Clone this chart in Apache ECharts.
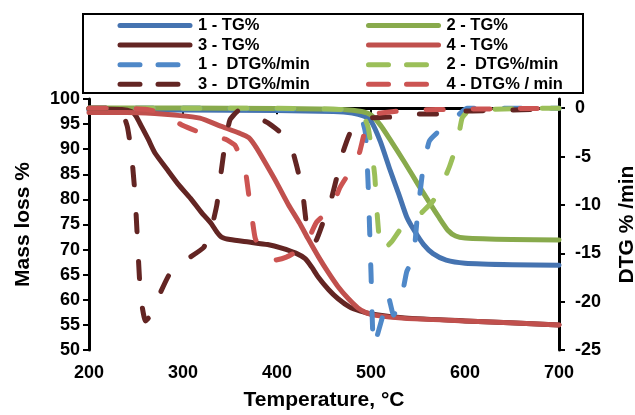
<!DOCTYPE html>
<html>
<head>
<meta charset="utf-8">
<script src="https://cdn.jsdelivr.net/npm/echarts@6/dist/echarts.min.js"></script>
<style>
	html, body { margin: 0; padding: 0; background: #fff; }
	#chart { width: 635px; height: 415px; }
</style>
</head>
<body>
<div id="chart"></div>
<script>

// temperature (°C), mass (%)
const tg1 = [[200, 97.8], [300, 97.8], [400, 97.7], [460, 97.5], [480, 97.2], [492, 96.6], [500, 95.6], [510, 91.5], [520, 86], [530, 80.8], [538, 76.5], [546, 73.8], [556, 71], [566, 69.2], [580, 67.9], [600, 67.3], [650, 67.0], [700, 66.9]];
const tg2 = [[200, 98.2], [300, 98.2], [400, 98.1], [470, 97.9], [490, 97.5], [500, 96.8], [510, 94.8], [520, 92], [536, 87.3], [550, 83], [560, 80], [572, 76.5], [582, 73.8], [590, 72.7], [600, 72.3], [650, 72.0], [700, 71.9]];
const tg3 = [[200, 98.0], [235, 97.9], [245, 97.5], [250, 96.6], [256, 94.5], [263, 92], [270, 89.3], [283, 86], [295, 83], [308, 80.2], [320, 77.3], [330, 75.2], [336, 73.5], [341, 72.5], [350, 72.0], [370, 71.5], [390, 71.0], [405, 70.3], [420, 69.3], [430, 68.2], [437, 66.5], [444, 64.5], [455, 62], [465, 60.2], [477, 58.6], [488, 57.8], [500, 57.2], [536, 56.4], [600, 55.8], [700, 55.0]];
const tg4 = [[200, 97.3], [240, 97.3], [270, 97.1], [291, 96.8], [318, 96.2], [340, 94.6], [360, 93.2], [370, 92.3], [378, 90.3], [390, 86.5], [400, 83.2], [412, 79], [424, 75.3], [433, 72.2], [444, 68.6], [454, 65.6], [465, 62.6], [476, 60.2], [486, 58.4], [494, 57.5], [505, 56.9], [536, 56.3], [600, 55.8], [700, 55.0]];

// temperature (°C), DTG (%/min)
const dtg1 = [[200, 0], [300, 0], [400, -0.1], [470, -0.2], [488, -0.6], [494, -2.5], [497, -8], [500, -17], [503, -24.6], [513, -21.3], [518, -19.3], [524, -21.4], [533, -19.3], [538, -16.9], [545, -15.5], [549, -11.5], [555, -6.5], [562, -3.4], [572, -2.4], [581, -2.0], [592, -0.8], [602, 0], [700, 0]];
const dtg2 = [[200, 0], [300, 0], [400, 0], [480, -0.2], [492, -0.8], [497, -2], [501, -4.6], [504, -7], [507, -11.5], [511, -14.8], [522, -13.8], [533, -12.3], [545, -11.6], [556, -10.6], [566, -9.6], [576, -7.8], [584, -5.9], [592, -3.5], [597, -1.0], [605, -0.2], [700, 0]];
const dtg3 = [[200, 0], [220, 0], [230, 0.3], [237, -0.8], [241, -2], [245, -4.5], [249, -9], [252, -14.5], [255, -19.5], [260, -22], [265, -21.5], [273, -19.7], [286, -17.1], [303, -15.7], [322, -14.4], [330, -12.5], [336, -10], [340, -7], [345, -3.5], [350, -1.2], [360, -0.2], [370, -0.5], [390, -1.5], [405, -2.6], [414, -3.6], [421, -6], [427, -8.5], [432, -12.5], [437, -13.9], [442, -13.6], [449, -11.8], [458, -9.3], [464, -7], [470, -4.6], [478, -2.5], [490, -1.3], [500, -1], [525, -0.9], [550, -0.6], [570, -0.6], [600, -0.3], [650, -0.2], [700, 0]];
const dtg4 = [[200, 0], [235, 0], [260, -0.1], [270, -0.3], [286, -1.0], [300, -1.8], [315, -2.4], [330, -2.9], [345, -3.2], [355, -3.8], [362, -5.2], [366, -6.2], [370, -9], [373, -11], [377, -13.5], [387, -15.2], [398, -15.7], [410, -15.4], [421, -14.8], [432, -13.8], [442, -11.8], [458, -10.3], [467, -8.2], [476, -6.8], [483, -5.9], [488, -4.5], [496, -1.5], [505, -0.6], [520, -0.4], [540, -0.2], [600, -0.1], [700, 0]];

const seriesNames = ['1 - TG%', '2 - TG%', '3 - TG%', '4 - TG%', '1 -  DTG%/min', '2 -  DTG%/min', '3 -  DTG%/min', '4 - DTG% / min'];
const seriesColors = ['#4573b0', '#88aa4c', '#632523', '#c0504d', '#4f88c8', '#9bbf59', '#632523', '#cc5452'];
const xTicks = { min: 200, max: 700, interval: 100 };

const font = 'Liberation Sans, Arial, sans-serif';
const DASH = [17, 30];
const LEGEND_DASH = [20, 18];

const tgData = [tg1, tg2, tg3, tg4];
const dtgData = [dtg1, dtg2, dtg3, dtg4];

const series = [];
tgData.forEach((d, i) => {
	series.push({
		name: seriesNames[i],
		type: 'line',
		yAxisIndex: 0,
		data: d,
		symbol: 'none',
		smooth: 0.2,
		lineStyle: { color: seriesColors[i], width: 5, cap: 'round', join: 'round' },
		itemStyle: { color: seriesColors[i] },
	});
});
dtgData.forEach((d, i) => {
	series.push({
		name: seriesNames[i + 4],
		type: 'line',
		yAxisIndex: 1,
		data: d,
		symbol: 'none',
		smooth: 0.15,
		lineStyle: { color: seriesColors[i + 4], width: 5, type: DASH, cap: 'round', join: 'round' },
		itemStyle: { color: seriesColors[i + 4] },
	});
});

const legendItem = (name) => {
	const dashed = seriesNames.indexOf(name) >= 4;
	return {
		name,
		itemStyle: { opacity: 0 },
		lineStyle: dashed ? { width: 5, type: LEGEND_DASH, cap: 'round' } : { width: 5, cap: 'round' },
	};
};

const legendBase = {
	orient: 'vertical',
	top: 17,
	padding: 0,
	itemWidth: 70,
	itemHeight: 14,
	itemGap: 2.6,
	selectedMode: false,
	textStyle: { fontFamily: font, fontWeight: 'bold', fontSize: 16.5, color: '#000', lineHeight: 14, padding: [0, 0, 0, 3] },
};

const chart = echarts.init(document.getElementById('chart'), null, { renderer: 'canvas' });
chart.setOption({
	animation: false,
	backgroundColor: '#fff',
	grid: { left: 89, right: 76, top: 99, bottom: 65, outerBoundsMode: 'none' },
	legend: [
		Object.assign({}, legendBase, { left: 117.5, data: [seriesNames[0], seriesNames[2], seriesNames[4], seriesNames[6]].map(legendItem) }),
		Object.assign({}, legendBase, { left: 366, data: [seriesNames[1], seriesNames[3], seriesNames[5], seriesNames[7]].map(legendItem) }),
	],
	graphic: [
		{ type: 'rect', shape: { x: 83, y: 14, width: 500, height: 79 }, style: { fill: null, stroke: '#000', lineWidth: 2 }, z: 10 },
	],
	xAxis: {
		type: 'value',
		min: xTicks.min,
		max: xTicks.max,
		interval: xTicks.interval,
		name: 'Temperature, °C',
		nameLocation: 'middle',
		nameGap: 40,
		nameTextStyle: { fontFamily: font, fontWeight: 'bold', fontSize: 21, color: '#000' },
		axisLine: { lineStyle: { color: '#000', width: 3 } },
		axisTick: { length: 6, lineStyle: { color: '#000', width: 2 } },
		axisLabel: { fontFamily: font, fontWeight: 'bold', fontSize: 18, color: '#000', margin: 14 },
		splitLine: { show: false },
	},
	yAxis: [
		{
			type: 'value',
			min: 50,
			max: 100,
			interval: 5,
			name: 'Mass loss %',
			nameLocation: 'middle',
			nameGap: 55,
			nameRotate: 90,
			nameTextStyle: { fontFamily: font, fontWeight: 'bold', fontSize: 21, color: '#000' },
			axisLine: { show: true, lineStyle: { color: '#000', width: 3 } },
			axisTick: { show: true, length: 6, lineStyle: { color: '#000', width: 2 } },
			axisLabel: { fontFamily: font, fontWeight: 'bold', fontSize: 18, color: '#000', margin: 9 },
			splitLine: { show: false },
		},
		{
			type: 'value',
			position: 'right',
			min: -25,
			max: 0.95,
			interval: 5,
			name: 'DTG % /min',
			nameLocation: 'middle',
			nameGap: 58,
			nameRotate: 90,
			nameTextStyle: { fontFamily: font, fontWeight: 'bold', fontSize: 21, color: '#000' },
			axisLine: { show: true, lineStyle: { color: '#000', width: 3 } },
			axisTick: { show: true, length: 6, lineStyle: { color: '#000', width: 2 } },
			axisLabel: { fontFamily: font, fontWeight: 'bold', fontSize: 18, color: '#000', margin: 16, showMaxLabel: false },
			splitLine: { show: false },
		},
	],
	series,
});
</script>
</body>
</html>
